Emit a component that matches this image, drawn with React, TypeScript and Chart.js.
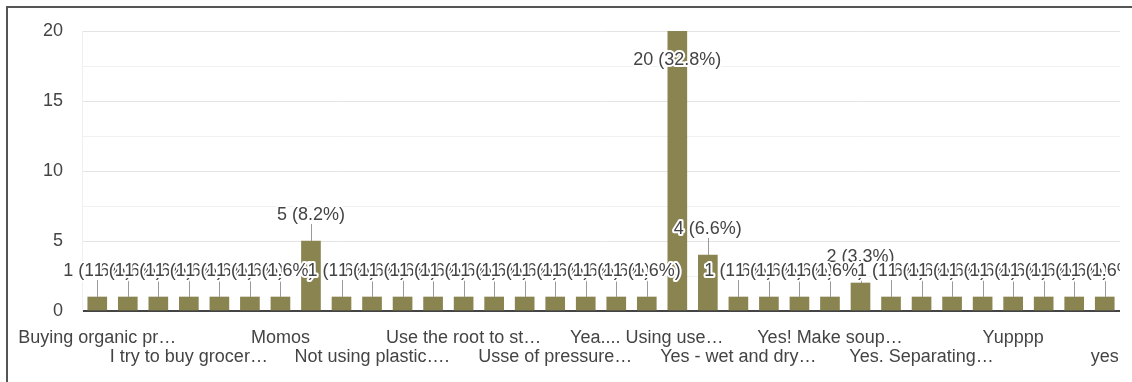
import React, { useEffect, useRef } from "react";
import { Chart, registerables } from "chart.js";

Chart.register(...registerables);

// Responses (only every third one gets an axis label)
const categories: string[] = [
  "Buying organic pr…", "", "",
  "I try to buy grocer…", "", "",
  "Momos", "", "",
  "Not using plastic….", "", "",
  "Use the root to st…", "", "",
  "Usse of pressure…", "", "",
  "Yea.... Using use…", "", "",
  "Yes - wet and dry…", "", "",
  "Yes! Make soup…", "", "",
  "Yes. Separating…", "", "",
  "Yupppp", "", "",
  "yes",
];

// Number of respondents per response
const values: number[] = [
  1, 1, 1, 1, 1, 1, 1, 5, 1, 1,
  1, 1, 1, 1, 1, 1, 1, 1, 1, 20,
  4, 1, 1, 1, 1, 2, 1, 1, 1, 1,
  1, 1, 1, 1,
];

const yTicks: number[] = [0, 5, 10, 15, 20];

const FONT = '"Liberation Sans", Arial, sans-serif';
const TEXT = "#444";
const BAR = "#8a8451";

const total = values.reduce((a, b) => a + b, 0);

const annotationPlugin = {
  id: "barAnnotations",
  afterDatasetsDraw(chart: any) {
    const { ctx, chartArea } = chart;
    const meta = chart.getDatasetMeta(0);
    const items = meta.data.map((bar: any, i: number) => {
      const p = bar.getProps(["x", "y"], true);
      return { x: p.x, y: p.y, i, v: values[i] };
    });
    ctx.save();
    // annotations are cut off at the right edge of the plot
    ctx.beginPath();
    ctx.rect(0, 0, chartArea.right, chart.height);
    ctx.clip();
    // stems from bar top up to the label
    ctx.strokeStyle = "#9a9a9a";
    ctx.lineWidth = 1;
    for (const it of items) {
      if (it.y - 40 < chartArea.top) continue;
      const sx = Math.round(it.x) + 0.5;
      ctx.beginPath();
      ctx.moveTo(sx, it.y);
      ctx.lineTo(sx, it.y - 17);
      ctx.stroke();
    }
    // larger counts first, so the row of single-count labels sits on top
    const order = [...items].sort((a, b) => b.v - a.v || a.i - b.i);
    ctx.font = `18px ${FONT}`;
    ctx.textAlign = "center";
    ctx.textBaseline = "alphabetic";
    ctx.lineJoin = "round";
    for (const it of order) {
      const inside = it.y - 40 < chartArea.top;
      const ty = inside ? it.y + 34 : it.y - 21;
      const text = `${it.v} (${((it.v / total) * 100).toFixed(1)}%)`;
      ctx.lineWidth = 4;
      ctx.strokeStyle = "#fff";
      ctx.strokeText(text, it.x, ty);
      ctx.fillStyle = TEXT;
      ctx.fillText(text, it.x, ty);
    }
    ctx.restore();
  },
};

export default function App() {
  const ref = useRef<HTMLCanvasElement>(null);

  useEffect(() => {
    if (!ref.current) return;
    const chart = new Chart(ref.current, {
      type: "bar",
      data: {
        labels: categories.map((c, i) => c || `#${i + 1}`),
        datasets: [
          {
            data: values,
            backgroundColor: BAR,
            borderWidth: 0,
            barThickness: 19,
          },
        ],
      },
      options: {
        responsive: false,
        animation: false,
        devicePixelRatio: 1,
        layout: { padding: { left: 0, right: 12, top: 31, bottom: 0 } },
        plugins: {
          legend: { display: false },
          tooltip: { enabled: false },
          title: { display: false },
        },
        scales: {
          x: {
            grid: { display: false },
            border: { display: false },
            ticks: {
              autoSkip: false,
              maxRotation: 0,
              minRotation: 0,
              padding: 10,
              color: TEXT,
              font: { family: FONT, size: 18, lineHeight: "19px" },
              callback: (_v: any, i: number) => {
                const lbl = categories[i];
                if (!lbl) return "";
                return (i / 3) % 2 === 1 ? ["", lbl] : lbl;
              },
            },
            afterFit: (scale: any) => {
              scale.height = 71;
            },
          },
          y: {
            min: 0,
            max: 20,
            border: { display: true, color: "#efefef" },
            grid: {
              drawTicks: false,
              color: (c: any) => {
                const v = c.tick ? c.tick.value : 0;
                if (v === 0) return "#444";
                return v % 5 === 0 ? "#e4e4e4" : "#f1f1f1";
              },
              lineWidth: (c: any) => (c.tick && c.tick.value === 0 ? 2 : 1),
            },
            ticks: {
              stepSize: 2.5,
              padding: 19,
              color: TEXT,
              font: { family: FONT, size: 18 },
              callback: (v: any) => (yTicks.includes(Number(v)) ? String(v) : ""),
            },
            afterFit: (scale: any) => {
              scale.width = 82;
            },
          },
        },
      },
      plugins: [annotationPlugin],
    });
    return () => chart.destroy();
  }, []);

  return (
    <div
      style={{
        position: "fixed",
        left: 0,
        top: 0,
        width: 1132,
        height: 382,
        background: "#fff",
        overflow: "hidden",
      }}
    >
      <div
        style={{
          position: "absolute",
          left: 6,
          top: 6,
          width: 1200,
          height: 500,
          borderLeft: "2px solid #555",
          borderTop: "2px solid #555",
        }}
      />
      <canvas
        ref={ref}
        width={1132}
        height={382}
        style={{ position: "absolute", left: 0, top: 0 }}
      />
    </div>
  );
}
